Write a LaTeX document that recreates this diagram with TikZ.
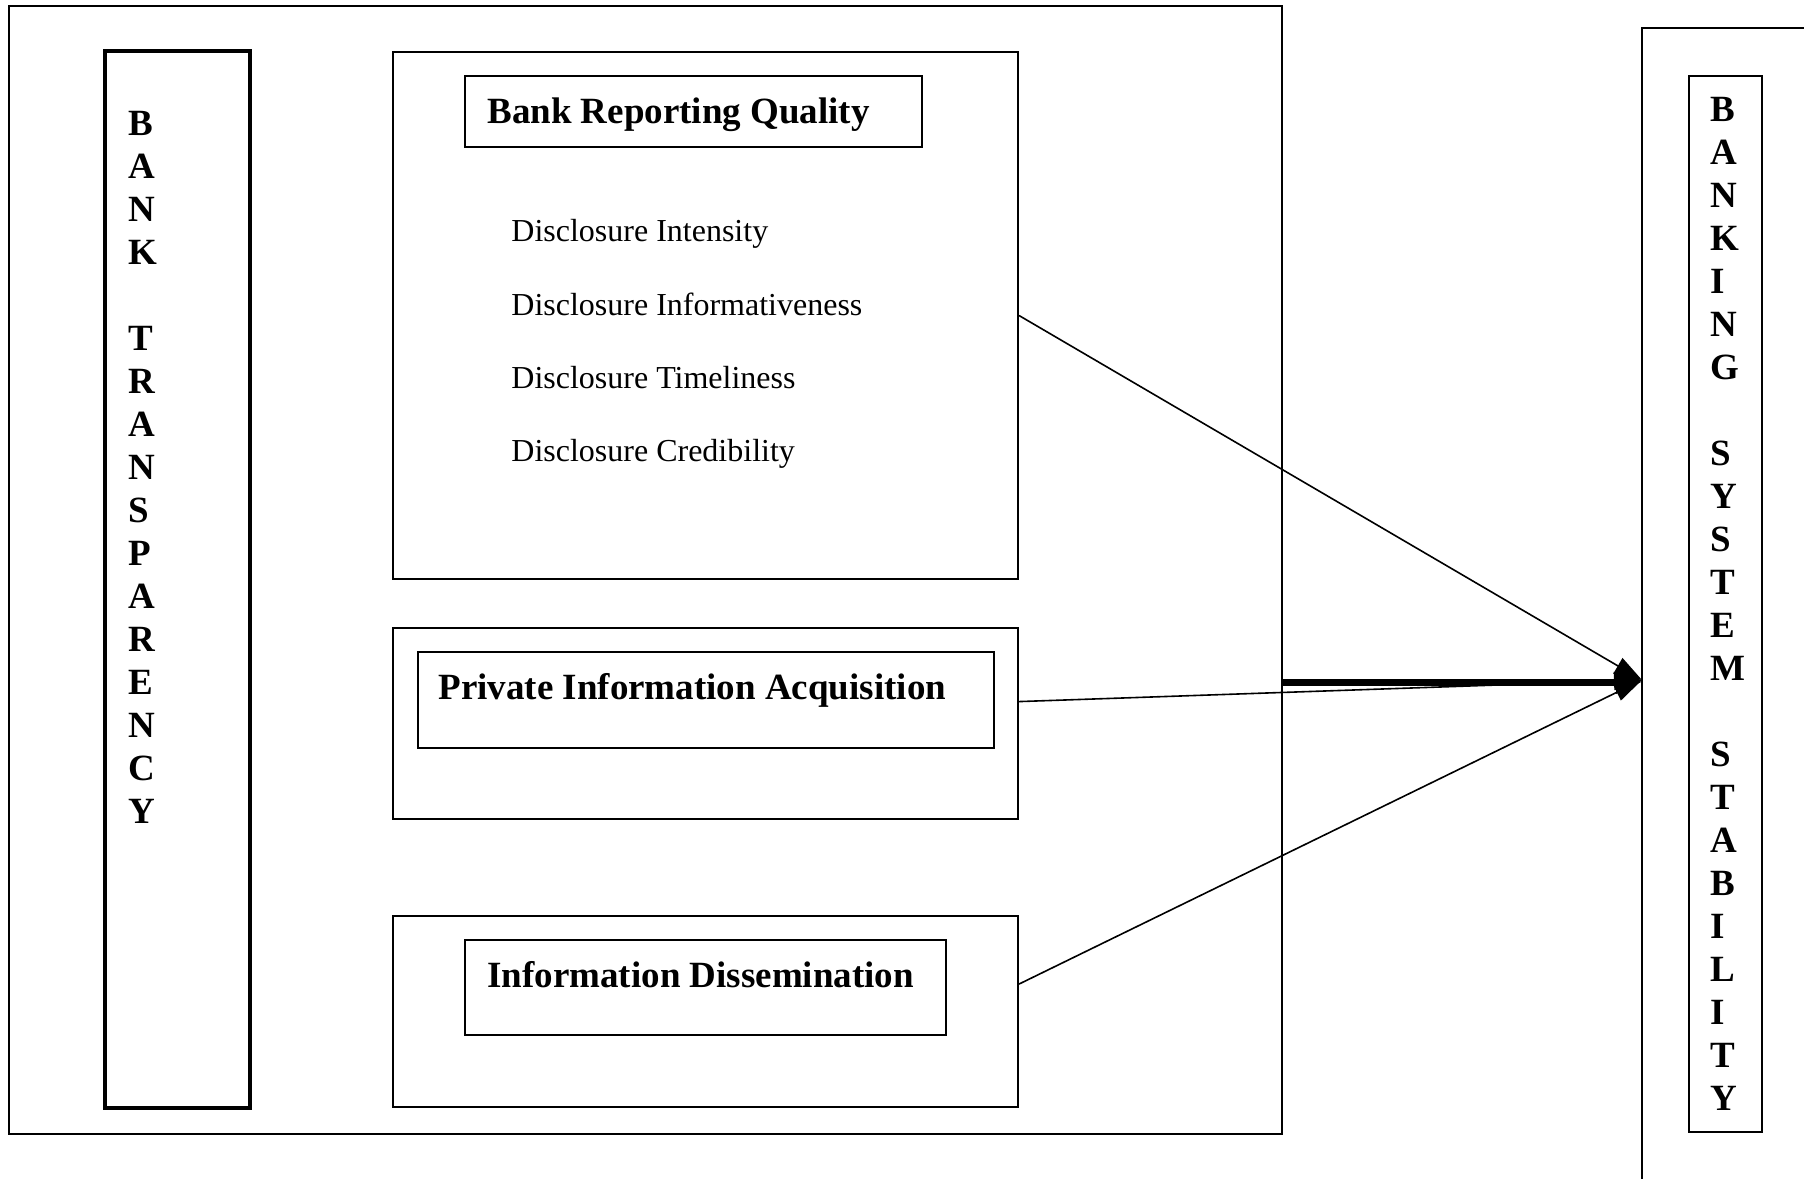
\documentclass[tikz,border=0pt]{standalone}
\usepackage{fontspec}
\setmainfont{Liberation Serif}
\usetikzlibrary{arrows.meta,fit}

\tikzset{
  box/.style={draw, inner sep=0pt, line width=1pt},
  heading/.style={anchor=base west, inner sep=0pt, font=\fontsize{18.5}{21.5}\selectfont\bfseries},
  item/.style={anchor=base west, inner sep=0pt, font=\fontsize{16}{19}\selectfont},
  letters/.style={anchor=base west, inner sep=0pt, align=left, font=\fontsize{18.5}{21.5}\selectfont\bfseries},
  link/.style={line width=0.8pt, -{Triangle[length=14pt,width=9pt]}},
}

\begin{document}
\begin{tikzpicture}[x=0.5pt, y=-0.5pt]
		%%%%% START %%%%%
		\useasboundingbox (0,0) rectangle (1804,1178);
		\clip (0,0) rectangle (1804,1178);
		\fill[white] (0,0) rectangle (1804,1178);
		
		% transparency frame with its side bar (letters placed by last baseline)
		\node[box, line width=1.3pt, fit={(9,6) (1282,1134)}] (trans) {};
		\node[box, line width=2pt, fit={(105,51) (250,1108)}] (transbar) {};
		\node[letters] (translbl) at (128,823) {B\\A\\N\\K\\ \\T\\R\\A\\N\\S\\P\\A\\R\\E\\N\\C\\Y};
		
		% reporting quality
		\node[box, fit={(393,52) (1018,579)}] (brq) {};
		\node[box, fit={(465,76) (922,147)}] (brqhead) {};
		\node[heading] (brqlbl) at (487,123) {Bank Reporting Quality};
		\node[item] (dint) at (511,241) {Disclosure Intensity};
		\node[item] (dinf) at (511,315) {Disclosure Informativeness};
		\node[item] (dtim) at (511,388) {Disclosure Timeliness};
		\node[item] (dcred) at (511,461) {Disclosure Credibility};
		
		% private information
		\node[box, fit={(393,628) (1018,819)}] (pia) {};
		\node[box, fit={(418,652) (994,748)}] (piahead) {};
		\node[heading] (pialbl) at (438,699) {Private Information Acquisition};
		
		% dissemination
		\node[box, fit={(393,916) (1018,1107)}] (diss) {};
		\node[box, fit={(465,940) (946,1035)}] (disshead) {};
		\node[heading] (disslbl) at (487,987) {Information Dissemination};
		
		% stability frame, runs off the page
		\node[box, line width=1.2pt, fit={(1642,28) (1950,1300)}] (stab) {};
		\node[box, line width=1.2pt, fit={(1689,76) (1762,1132)}] (stabbar) {};
		\node[letters] (stablbl) at (1710,1110) {B\\A\\N\\K\\I\\N\\G\\ \\S\\Y\\S\\T\\E\\M\\ \\S\\T\\A\\B\\I\\L\\I\\T\\Y};
		
		\coordinate (tip) at (1642,680);
		
		\draw[link] (brq.east) -- (tip);
		\draw[link] (pia.4.4) -- (tip);
		\draw[link] (diss.5.1) -- (tip);
		\draw[line width=3.5pt, -{Triangle[length=13pt,width=11pt]}] ([yshift=-1pt]trans.east |- tip) -- ([yshift=-1pt]tip);
		
		%%%%% END %%%%%
\end{tikzpicture}
\end{document}
